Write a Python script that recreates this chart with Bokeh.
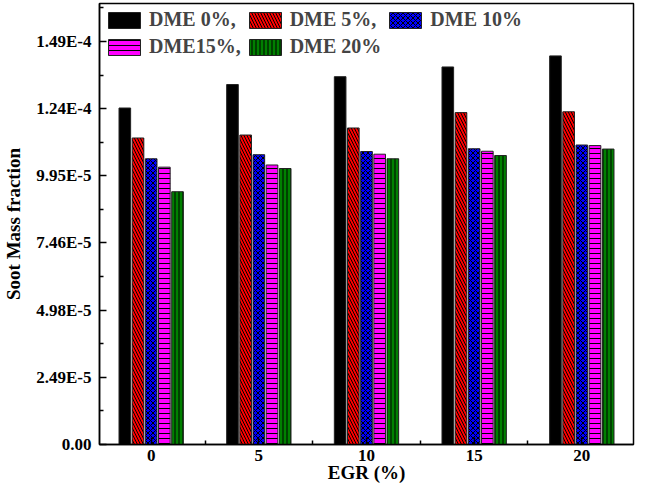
from bokeh.plotting import figure
from bokeh.models import (ColumnDataSource, FixedTicker, CustomJSTickFormatter,
                          Legend, LegendItem, Range1d)
from bokeh.transform import dodge
from bokeh.embed import file_html
from bokeh.resources import INLINE

# ---- data ----
egr = [0, 5, 10, 15, 20]
dme0 = [1.246e-4, 1.333e-4, 1.362e-4, 1.398e-4, 1.439e-4]
dme5 = [1.135e-4, 1.146e-4, 1.172e-4, 1.229e-4, 1.232e-4]
dme10 = [1.058e-4, 1.073e-4, 1.085e-4, 1.095e-4, 1.109e-4]
dme15 = [1.027e-4, 1.035e-4, 1.075e-4, 1.086e-4, 1.107e-4]
dme20 = [9.36e-5, 1.022e-4, 1.058e-4, 1.070e-4, 1.094e-4]
series_labels = ["DME 0%,", "DME 5%,", "DME 10%", "DME15%,", "DME 20%"]
ytick_values = [0, 2.4875e-5, 4.975e-5, 7.4625e-5, 9.95e-5, 1.24375e-4, 1.4925e-4]
ytick_labels = ["0.00", "2.49E-5", "4.98E-5", "7.46E-5", "9.95E-5", "1.24E-4", "1.49E-4"]
xtick_values = [0, 5, 10, 15, 20]
xminor_values = [2.5, 7.5, 12.5, 17.5]

# ---- styles ----
colors = ["#000000", "#FF0000", "#0000FF", "#FF00FF", "#008000"]
hatches = [" ", "left_diagonal_line", "diagonal_cross", "horizontal_line", "vertical_line"]
hscales = [5, 6, 5, 5, 4]
offsets = [-1.224, -0.612, 0.0, 0.612, 1.224]
bar_w = 0.54
FONT = "Liberation Serif"

src = ColumnDataSource(dict(egr=egr, s0=dme0, s1=dme5, s2=dme10, s3=dme15, s4=dme20))

p = figure(width=636, height=485,
           x_range=Range1d(-2.4, 22.4), y_range=Range1d(0, 1.633e-4),
           output_backend="svg", toolbar_location=None,
           min_border_left=96, min_border_right=3, min_border_top=3,
           min_border_bottom=30)

items = []
for i, key in enumerate(["s0", "s1", "s2", "s3", "s4"]):
    r = p.vbar(x=dodge("egr", offsets[i], range=p.x_range), top=key, width=bar_w,
               source=src, fill_color=colors[i], line_color="#222222", line_width=1,
               hatch_pattern=hatches[i], hatch_color="black", hatch_scale=hscales[i],
               hatch_weight=1)
    items.append(LegendItem(label=series_labels[i], renderers=[r]))

legend = Legend(items=items, location="top_left", orientation="horizontal", ncols=3,
                margin=0, padding=5, spacing=4, glyph_width=40, glyph_height=20,
                label_height=20, label_standoff=5,
                label_text_font=FONT, label_text_font_style="bold",
                label_text_font_size="20px", border_line_alpha=0,
                background_fill_alpha=0)
p.add_layout(legend)

p.xgrid.visible = False
p.ygrid.visible = False
p.outline_line_color = "black"
p.outline_line_width = 1.5

# axes
p.xaxis.ticker = FixedTicker(ticks=xtick_values, minor_ticks=xminor_values)
p.yaxis.ticker = FixedTicker(ticks=ytick_values,
                             minor_ticks=[(a + b) / 2 for a, b in zip(ytick_values[:-1], ytick_values[1:])]
                             + [ytick_values[-1] + (ytick_values[1] - ytick_values[0]) / 2])
p.yaxis.formatter = CustomJSTickFormatter(args=dict(vals=ytick_values, labels=ytick_labels), code="""
    for (let i = 0; i < vals.length; i++) {
        if (Math.abs(vals[i] - tick) < 1e-10) { return labels[i]; }
    }
    return "";
""")
for ax in (p.xaxis[0], p.yaxis[0]):
    ax.axis_line_width = 1.5
    ax.axis_line_color = "black"
    ax.major_tick_in = 7
    ax.major_tick_out = 0
    ax.minor_tick_in = 4
    ax.minor_tick_out = 0
    ax.major_tick_line_width = 1.5
    ax.minor_tick_line_width = 1.5
    ax.major_label_text_font = FONT
    ax.major_label_text_font_style = "bold"
    ax.major_label_text_font_size = "17px"
    ax.major_label_text_color = "black"
    ax.axis_label_text_font = FONT
    ax.axis_label_text_font_style = "bold"
    ax.axis_label_text_font_size = "19px"
    ax.axis_label_text_color = "black"

p.xaxis.axis_label = "EGR (%)"
p.yaxis.axis_label = "Soot Mass fraction"
p.xaxis.major_label_standoff = 5
p.xaxis.axis_label_standoff = -2
p.yaxis.major_label_standoff = 8
p.yaxis.axis_label_standoff = 9

open("out.html", "w").write(file_html(p, INLINE))
